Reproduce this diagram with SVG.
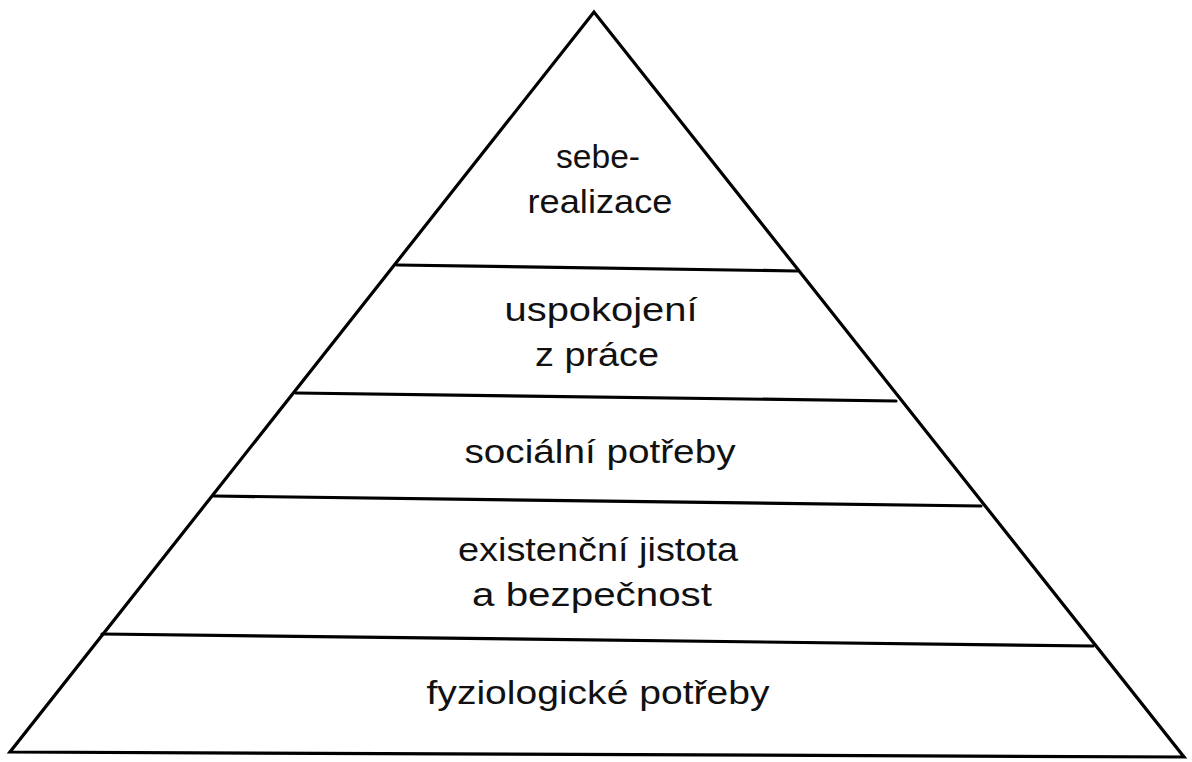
<svg xmlns="http://www.w3.org/2000/svg" width="1192" height="762" viewBox="0 0 1192 762">
<style>
.ln{stroke:#000;stroke-width:3.2;fill:none;stroke-linejoin:miter;stroke-linecap:round}
.t{font-family:"Liberation Sans",Arial,sans-serif;font-size:34px;fill:#111;text-anchor:middle}
</style>
<rect width="1192" height="762" fill="#fff"/>
<g id="pyramid">
<polygon class="ln" points="594,12 10,752 1184,757"/>
</g>
<g id="connectors">
<line class="ln" x1="397" y1="265" x2="797" y2="271"/>
<line class="ln" x1="296" y1="393" x2="896" y2="401"/>
<line class="ln" x1="214" y1="496" x2="981" y2="506"/>
<line class="ln" x1="102" y1="634" x2="1093" y2="646"/>
</g>
<g id="tier-seberealizace">
<text class="t" x="598" y="168" textLength="84" lengthAdjust="spacingAndGlyphs">sebe-</text>
<text class="t" x="600" y="213" textLength="145" lengthAdjust="spacingAndGlyphs">realizace</text>
</g>
<g id="tier-uspokojeni">
<text class="t" x="601" y="321" textLength="193" lengthAdjust="spacingAndGlyphs">uspokojení</text>
<text class="t" x="597" y="366" textLength="124" lengthAdjust="spacingAndGlyphs">z práce</text>
</g>
<g id="tier-socialni">
<text class="t" x="600" y="463" textLength="271" lengthAdjust="spacingAndGlyphs">sociální potřeby</text>
</g>
<g id="tier-existencni">
<text class="t" x="598" y="561" textLength="280" lengthAdjust="spacingAndGlyphs">existenční jistota</text>
<text class="t" x="592" y="606" textLength="240" lengthAdjust="spacingAndGlyphs">a bezpečnost</text>
</g>
<g id="tier-fyziologicke">
<text class="t" x="598" y="704" textLength="343" lengthAdjust="spacingAndGlyphs">fyziologické potřeby</text>
</g>
</svg>
